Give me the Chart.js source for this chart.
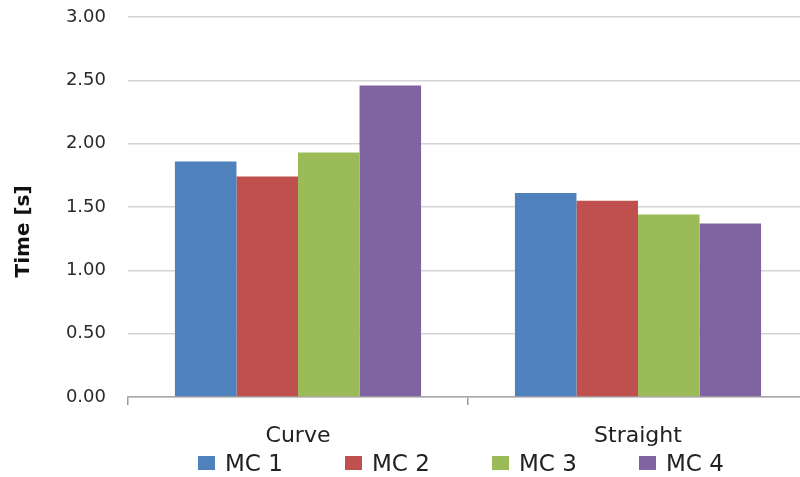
<!DOCTYPE html>
<html>
<head>
<meta charset="utf-8">
<script src="https://cdn.jsdelivr.net/npm/chart.js@4.4.1/dist/chart.umd.min.js"></script>
<style>
  html, body { margin: 0; padding: 0; background: #fff; overflow: hidden; }
  #wrap { position: relative; width: 800px; height: 477px; overflow: hidden; }
  #legend { position: absolute; left: 198px; top: 450px; display: flex; font-family: "DejaVu Sans", sans-serif; font-size: 23px; color: #222; }
  #legend .item { width: 147px; display: flex; align-items: center; }
  #legend .box { width: 17px; height: 14px; margin-right: 10px; }
</style>
</head>
<body>
<div id="wrap">
  <canvas id="chart" width="808" height="477"></canvas>
  <div id="legend"></div>
</div>
<script>
// data
const categories = ['Curve', 'Straight'];
const seriesNames = ['MC 1', 'MC 2', 'MC 3', 'MC 4'];
const mc1 = [1.86, 1.61];
const mc2 = [1.74, 1.55];
const mc3 = [1.93, 1.44];
const mc4 = [2.46, 1.37];
const yTicks = [0, 0.5, 1, 1.5, 2, 2.5, 3];
const colors = ['#4F81BD', '#C0504D', '#9BBB59', '#8064A2'];

const values = [mc1, mc2, mc3, mc4];

const ctx = document.getElementById('chart').getContext('2d');
const chart = new Chart(ctx, {
    type: 'bar',
    data: {
        labels: categories,
        datasets: seriesNames.map((name, i) => ({
            label: name,
            data: values[i],
            backgroundColor: colors[i],
            borderWidth: 0,
            categoryPercentage: 0.724,
            barPercentage: 1.0
        }))
    },
    options: {
        responsive: false,
        animation: false,
        layout: { autoPadding: false, padding: { top: 17, left: 0, right: 0, bottom: 0 } },
        plugins: {
            legend: { display: false },
            tooltip: { enabled: false }
        },
        scales: {
            x: {
                grid: { offset: true, drawOnChartArea: false, tickLength: 8, color: '#999', lineWidth: 1.5 },
                border: { color: '#a6a6a6', width: 1.5 },
                ticks: { padding: 18, color: '#222', font: { family: 'DejaVu Sans', size: 22 } },
                afterFit: scale => { scale.height = 80; scale.paddingTop = 0; scale.paddingBottom = 0; }
            },
            y: {
                min: 0,
                max: 3,
                afterBuildTicks: scale => { scale.ticks = yTicks.map(v => ({ value: v })); },
                grid: { drawTicks: false, color: '#d4d4d4', lineWidth: 1.5 },
                border: { display: false },
                ticks: {
                    padding: 22,
                    color: '#2a2a2a',
                    font: { family: 'DejaVu Sans', size: 18 },
                    callback: v => v.toFixed(2)
                },
                title: {
                    display: true,
                    // trailing nbsp pushes the centred title a bit lower, like the original
                    text: 'Time [s]' + '\u00a0'.repeat(7),
                    color: '#111',
                    padding: { top: 12, bottom: 0 },
                    font: { family: 'DejaVu Sans', size: 20, weight: 'bold' }
                },
                afterFit: scale => { scale.width = 128; scale.paddingTop = 0; scale.paddingBottom = 0; }
            }
        }
    }
});

// html legend built from the datasets
const legend = document.getElementById('legend');
chart.data.datasets.forEach(ds => {
    const item = document.createElement('div');
    item.className = 'item';
    const box = document.createElement('span');
    box.className = 'box';
    box.style.background = ds.backgroundColor;
    const txt = document.createElement('span');
    txt.textContent = ds.label;
    item.appendChild(box);
    item.appendChild(txt);
    legend.appendChild(item);
});
</script>
</body>
</html>
